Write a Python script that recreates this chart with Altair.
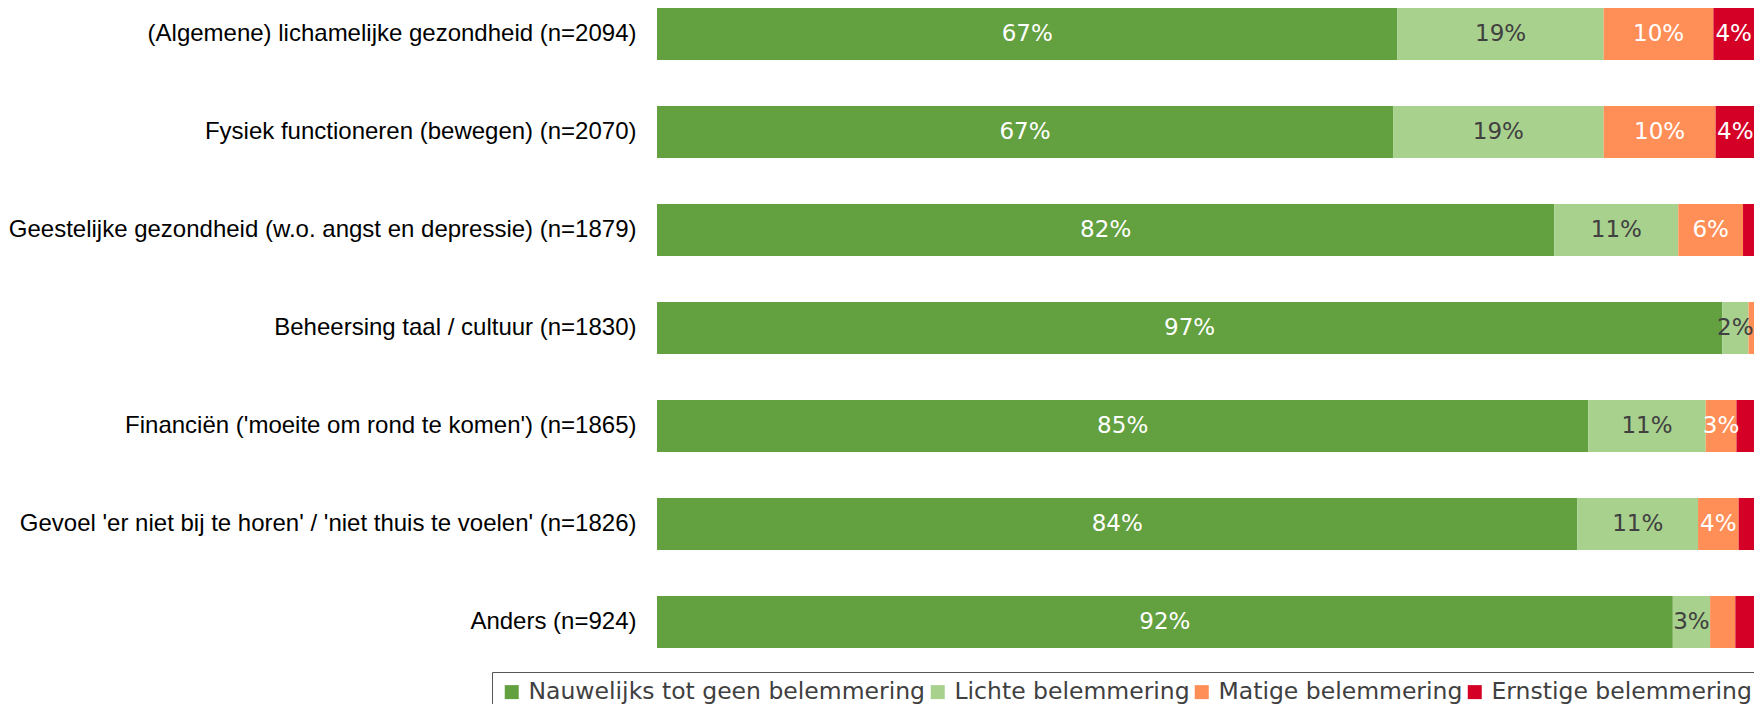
import altair as alt
import pandas as pd

categories = [
    "(Algemene) lichamelijke gezondheid (n=2094)",
    "Fysiek functioneren (bewegen) (n=2070)",
    "Geestelijke gezondheid (w.o. angst en depressie) (n=1879)",
    "Beheersing taal / cultuur (n=1830)",
    "Financiën ('moeite om rond te komen') (n=1865)",
    "Gevoel 'er niet bij te horen' / 'niet thuis te voelen' (n=1826)",
    "Anders (n=924)",
]
series = [
    "Nauwelijks tot geen belemmering",
    "Lichte belemmering",
    "Matige belemmering",
    "Ernstige belemmering",
]
colors = ["#63A03F", "#A9D18E", "#FF8F57", "#D50026"]
label_dark = [False, True, False, False]

green = [67.5, 67.1, 81.8, 97.1, 84.9, 83.9, 92.6]
light = [18.8, 19.2, 11.3, 2.4, 10.7, 11.0, 3.4]
orange = [10.0, 10.2, 5.9, 0.5, 2.8, 3.7, 2.3]
red = [3.7, 3.6, 1.0, 0.0, 1.6, 1.4, 1.7]

green_lbl = ["67%", "67%", "82%", "97%", "85%", "84%", "92%"]
light_lbl = ["19%", "19%", "11%", "2%", "11%", "11%", "3%"]
orange_lbl = ["10%", "10%", "6%", "", "3%", "4%", ""]
red_lbl = ["4%", "4%", "", "", "", "", ""]

values = [green, light, orange, red]
labels = [green_lbl, light_lbl, orange_lbl, red_lbl]

rows = []
for ci, cat in enumerate(categories):
    start = 0.0
    for si, s in enumerate(series):
        v = values[si][ci]
        rows.append({
            "cat": cat,
            "series": s,
            "order": si,
            "start": start,
            "end": start + v,
            "mid": start + v / 2,
            "label": labels[si][ci],
            "dark": label_dark[si],
        })
        start += v
df = pd.DataFrame(rows)

y_enc = alt.Y(
    "cat:N",
    sort=categories,
    scale=alt.Scale(paddingInner=0.469, paddingOuter=0),
    axis=alt.Axis(
        title=None, ticks=False, tickSize=0, domain=False, grid=False,
        labelFont="Liberation Sans", labelFontSize=24, labelColor="#000000",
        labelPadding=21, labelLimit=1000,
    ),
)
x_scale = alt.Scale(domain=[0, 100], nice=False, zero=True)

bars = alt.Chart(df).mark_bar().encode(
    x=alt.X("start:Q", scale=x_scale, axis=None),
    x2="end:Q",
    y=y_enc,
    color=alt.Color(
        "series:N",
        scale=alt.Scale(domain=series, range=colors),
        sort=series,
        legend=alt.Legend(
            title=None, orient="none", legendX=-165, legendY=664,
            direction="horizontal", columns=4,
            symbolType="square", symbolSize=196, symbolStrokeWidth=0,
            labelFont="DejaVu Sans", labelFontSize=23.5, labelColor="#404040",
            labelOffset=5, columnPadding=0, padding=8, labelLimit=1000,
            strokeColor="#555555",
        ),
    ),
)

text_white = alt.Chart(df).transform_filter(
    "datum.label != '' && !datum.dark"
).mark_text(
    font="DejaVu Sans", fontSize=23, color="#FFFFFF", align="center", baseline="middle"
).encode(
    x=alt.X("mid:Q", scale=x_scale, axis=None),
    y=alt.Y("cat:N", sort=categories),
    text="label:N",
)

text_dark = alt.Chart(df).transform_filter(
    "datum.label != '' && datum.dark"
).mark_text(
    font="DejaVu Sans", fontSize=23, color="#404040", align="center", baseline="middle"
).encode(
    x=alt.X("mid:Q", scale=x_scale, axis=None),
    y=alt.Y("cat:N", sort=categories),
    text="label:N",
)

chart = alt.layer(bars, text_white, text_dark).properties(
    width=1097,
    height=640,
    autosize=alt.AutoSizeParams(type="none"),
    padding={"left": 649, "top": 0, "right": 0, "bottom": 60},
    background="#FFFFFF",
).configure_view(stroke=None)

chart.save("out.html", embed_options={"renderer": "svg", "actions": False})
